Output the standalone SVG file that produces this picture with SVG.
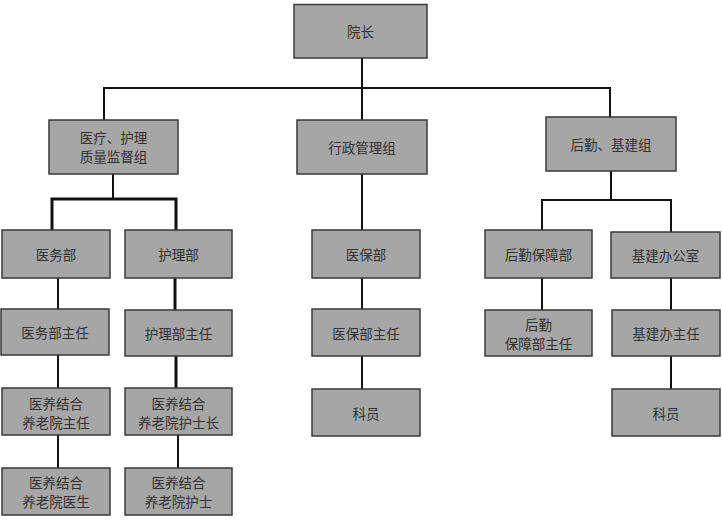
<svg xmlns="http://www.w3.org/2000/svg" width="722" height="522" viewBox="0 0 722 522">
<style>
.n rect{fill:#a6a6a6;stroke:#3a3a3a;stroke-width:1.5}
.n text{font-family:"Noto Sans CJK SC","Noto Sans",sans-serif;font-size:13.5px;fill:#333;text-anchor:middle;dominant-baseline:central}
.c line,.c polyline{stroke:#111;stroke-width:2;fill:none}
.c .t{stroke-width:3}
</style>
<rect width="722" height="522" fill="#fff"/>
<g class="c">
<line x1="362" y1="58" x2="362" y2="120"/>
<polyline points="104,120 104,88 610,88 610,117"/>
<line x1="113" y1="174" x2="113" y2="199"/>
<polyline class="t" points="52,230 52,199 176,199 176,230"/>
<line x1="362" y1="174" x2="362" y2="230"/>
<line x1="611" y1="171" x2="611" y2="200"/>
<polyline points="542,230 542,200 671,200 671,232"/>
<line x1="58" y1="278" x2="58" y2="309"/>
<line class="t" x1="175" y1="278" x2="175" y2="310"/>
<line x1="362" y1="278" x2="362" y2="309"/>
<line x1="542" y1="278" x2="542" y2="310"/>
<line x1="671" y1="278" x2="671" y2="310"/>
<line x1="58" y1="355" x2="58" y2="388"/>
<line class="t" x1="176" y1="356" x2="176" y2="388"/>
<line x1="362" y1="356" x2="362" y2="389"/>
<line x1="671" y1="356" x2="671" y2="389"/>
<line x1="58" y1="435" x2="58" y2="468"/>
<line x1="178" y1="435" x2="178" y2="468"/>
</g>
<g id="yuanzhang" class="n"><rect x="294" y="4.5" width="133" height="53.5"/><text x="360.5" y="31">院长</text></g>
<g id="yiliao" class="n"><rect x="49" y="120" width="129" height="54"/><text x="113.5" y="136.5">医疗、护理</text><text x="113.5" y="155.5">质量监督组</text></g>
<g id="xingzheng" class="n"><rect x="297" y="120" width="130" height="54"/><text x="362" y="147">行政管理组</text></g>
<g id="houqinjijian" class="n"><rect x="546" y="117" width="130" height="54"/><text x="611" y="144">后勤、基建组</text></g>
<g id="yiwubu" class="n"><rect x="2" y="230" width="108" height="48"/><text x="56" y="254">医务部</text></g>
<g id="hulibu" class="n"><rect x="125" y="230" width="107" height="48"/><text x="178.5" y="254">护理部</text></g>
<g id="yibaobu" class="n"><rect x="312" y="230" width="108" height="48"/><text x="366" y="254">医保部</text></g>
<g id="houqinbaozhang" class="n"><rect x="485" y="230" width="107" height="48"/><text x="538.5" y="254">后勤保障部</text></g>
<g id="jijianban" class="n"><rect x="611" y="232" width="109" height="46"/><text x="665.5" y="255">基建办公室</text></g>
<g id="yiwuzhuren" class="n"><rect x="1" y="309" width="108" height="46"/><text x="55" y="332">医务部主任</text></g>
<g id="hulizhuren" class="n"><rect x="125" y="310" width="107" height="46"/><text x="178.5" y="333">护理部主任</text></g>
<g id="yibaozhuren" class="n"><rect x="312" y="309" width="108" height="47"/><text x="366" y="332.5">医保部主任</text></g>
<g id="houqinzhuren" class="n"><rect x="485" y="310" width="107" height="46"/><text x="538.5" y="324">后勤</text><text x="538.5" y="343">保障部主任</text></g>
<g id="jijianzhuren" class="n"><rect x="612" y="310" width="108" height="46"/><text x="666" y="333">基建办主任</text></g>
<g id="yanglaozhuren" class="n"><rect x="2" y="388" width="108" height="47"/><text x="56" y="403">医养结合</text><text x="56" y="422">养老院主任</text></g>
<g id="hushizhang" class="n"><rect x="125" y="388" width="107" height="47"/><text x="178.5" y="403">医养结合</text><text x="178.5" y="422">养老院护士长</text></g>
<g id="keyuan1" class="n"><rect x="312" y="389" width="108" height="47"/><text x="366" y="412.5">科员</text></g>
<g id="keyuan2" class="n"><rect x="612" y="389" width="108" height="47"/><text x="666" y="412.5">科员</text></g>
<g id="yisheng" class="n"><rect x="2" y="468" width="108" height="47"/><text x="56" y="482">医养结合</text><text x="56" y="501">养老院医生</text></g>
<g id="hushi" class="n"><rect x="125" y="468" width="107" height="47"/><text x="178.5" y="482">医养结合</text><text x="178.5" y="501">养老院护士</text></g>
</svg>
